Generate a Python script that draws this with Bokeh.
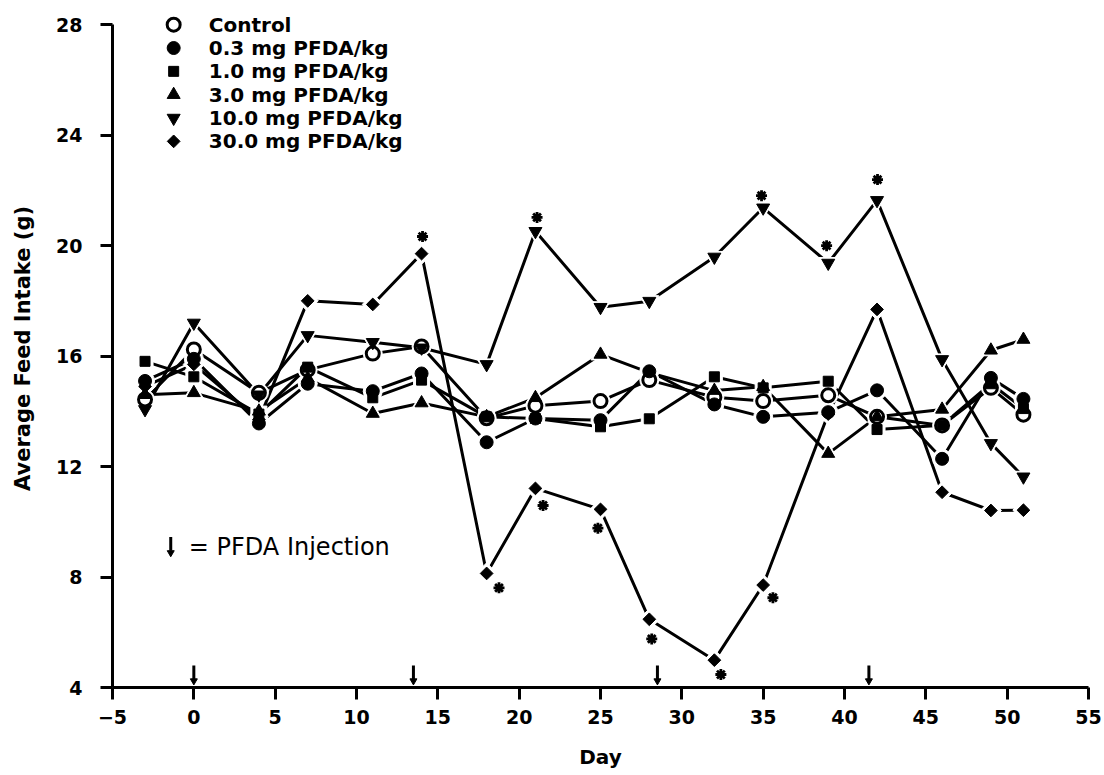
from bokeh.plotting import figure
from bokeh.models import Range1d, FixedTicker
from bokeh.core.properties import value
from bokeh.embed import file_html
from bokeh.resources import INLINE
import math

# ---------------- data ----------------
days = [-3, 0, 4, 7, 11, 14, 18, 21, 25, 28, 32, 35, 39, 42, 46, 49, 51]

control   = [14.43, 16.24, 14.67, 15.50, 16.09, 16.35, 13.75, 14.20, 14.37, 15.13, 14.51, 14.37, 14.58, 13.80, 13.49, 14.85, 13.88]
pfda_0_3  = [15.10, 15.90, 13.56, 15.00, 14.73, 15.37, 12.88, 13.74, 13.68, 15.45, 14.25, 13.80, 13.97, 14.76, 12.28, 15.21, 14.45]
pfda_1_0  = [15.81, 15.25, 13.90, 15.60, 14.49, 15.13, 13.80, 13.74, 13.44, 13.73, 15.25, 14.85, 15.09, 13.34, 13.50, 15.00, 14.10]
pfda_3_0  = [14.60, 14.67, 14.00, 15.20, 13.92, 14.30, 13.80, 14.49, 16.06, 15.40, 14.75, 14.89, 12.47, 13.80, 14.07, 16.21, 16.60]
pfda_10_0 = [14.07, 17.20, 14.60, 16.75, 16.50, 16.30, 15.70, 20.52, 17.77, 17.99, 19.59, 21.37, 19.37, 21.64, 15.88, 12.84, 11.63]
pfda_30_0 = [14.90, 15.70, 13.70, 18.00, 17.87, 19.71, 8.13, 11.21, 10.45, 6.47, 4.99, 7.71, 13.90, 17.69, 11.07, 10.41, 10.42]

series_labels = ["Control", "0.3 mg PFDA/kg", "1.0 mg PFDA/kg",
                 "3.0 mg PFDA/kg", "10.0 mg PFDA/kg", "30.0 mg PFDA/kg"]

# significance asterisks (day, feed intake)
sig_days   = [14.06, 21.1, 34.9, 38.9, 42.03, 18.76, 21.47, 24.84, 28.15, 32.4, 35.6]
sig_values = [20.33, 21.02, 21.81, 20.0, 22.39, 7.61, 10.59, 9.77, 5.76, 4.47, 7.25]

# PFDA injection days
injection_days = [0, 13.5, 28.5, 41.5]

x_ticks = [-5, 0, 5, 10, 15, 20, 25, 30, 35, 40, 45, 50, 55]
y_ticks = [4, 8, 12, 16, 20, 24, 28]

# ---------------- styles ----------------
FONT = "DejaVu Sans"
LW = 3
styles = [
    dict(marker="circle", size=13, fill="white", angle=0.0),
    dict(marker="circle", size=13, fill="black", angle=0.0),
    dict(marker="square", size=10, fill="black", angle=0.0),
    dict(marker="triangle", size=13, fill="black", angle=0.0),
    dict(marker="inverted_triangle", size=13, fill="black", angle=0.0),
    dict(marker="square", size=9, fill="black", angle=math.pi / 4),
]
all_series = [control, pfda_0_3, pfda_1_0, pfda_3_0, pfda_10_0, pfda_30_0]

p = figure(width=1104, height=775, output_backend="svg", toolbar_location=None,
           x_range=Range1d(-5, 55), y_range=Range1d(4, 28.55),
           min_border_left=112, min_border_right=16,
           min_border_top=9, min_border_bottom=88)
p.outline_line_color = None
p.grid.visible = False
p.background_fill_color = "white"
p.border_fill_color = "white"

# axes
for ax in (p.xaxis[0], p.yaxis[0]):
    ax.axis_line_width = LW
    ax.axis_line_color = "black"
    ax.major_tick_line_width = LW
    ax.major_tick_line_color = "black"
    ax.major_tick_out = 12
    ax.major_tick_in = 0
    ax.minor_tick_line_color = None
    ax.major_label_text_font = FONT
    ax.major_label_text_font_style = "bold"
    ax.major_label_text_font_size = "19px"
    ax.major_label_text_color = "black"
    ax.axis_label_text_font = FONT
    ax.axis_label_text_font_style = "bold"
    ax.axis_label_text_font_size = "20px"
    ax.axis_label_text_color = "black"

p.yaxis.axis_label_text_font_size = "21px"
p.xaxis.ticker = FixedTicker(ticks=x_ticks)
p.yaxis.ticker = FixedTicker(ticks=y_ticks)
p.yaxis.bounds = (4, 28)
p.xaxis.major_label_overrides = {-5: "\u22125"}
p.xaxis.axis_label = "Day"
p.yaxis.axis_label = "Average Feed Intake (g)"
p.xaxis.major_label_standoff = 10
p.yaxis.major_label_standoff = 18
p.xaxis.axis_label_standoff = 18
p.yaxis.axis_label_standoff = 18

# lines
for vals in all_series:
    p.line(days, vals, line_color="black", line_width=LW)

# white halos to give the line gaps around markers
for vals, st in zip(all_series, styles):
    p.scatter(days, vals, marker=st["marker"], size=st["size"] + 6, angle=st["angle"],
              fill_color="white", line_color="white", line_width=1)

# markers
for vals, st in zip(all_series, styles):
    p.scatter(days, vals, marker=st["marker"], size=st["size"], angle=st["angle"],
              fill_color=st["fill"], line_color="black",
              line_width=LW if st["fill"] == "white" else 1)

# asterisks
p.scatter(sig_days, sig_values, marker="asterisk", size=11, line_color="black", line_width=2.8)

# injection arrows
p.segment(x0=injection_days, y0=[4.8] * len(injection_days),
          x1=injection_days, y1=[4.3] * len(injection_days),
          line_color="black", line_width=3)
p.scatter(injection_days, [4.24] * len(injection_days), marker="inverted_triangle",
          size=7, fill_color="black", line_color="black")

# legend (manual)
leg_x = -1.24
leg_text_x = 0.92
leg_top = 28.0
leg_step = 0.845
for i, (lab, st) in enumerate(zip(series_labels, styles)):
    yy = leg_top - i * leg_step
    p.scatter([leg_x], [yy], marker=st["marker"], size=st["size"], angle=st["angle"],
              fill_color=st["fill"], line_color="black",
              line_width=LW if st["fill"] == "white" else 1)
    p.text([leg_text_x], [yy], text=[lab], text_font=value(FONT), text_font_style="bold",
           text_font_size="20px", text_baseline="middle", text_align="left", text_color="black")

# injection key
p.segment(x0=[-1.42], y0=[9.45], x1=[-1.42], y1=[8.95], line_color="black", line_width=3)
p.scatter([-1.42], [8.88], marker="inverted_triangle", size=7, fill_color="black", line_color="black")
p.text([-0.31], [9.1], text=["=  PFDA Injection"], text_font=value(FONT),
       text_font_size="24px", text_baseline="middle", text_align="left", text_color="black")

open("out.html", "w").write(file_html(p, INLINE))
